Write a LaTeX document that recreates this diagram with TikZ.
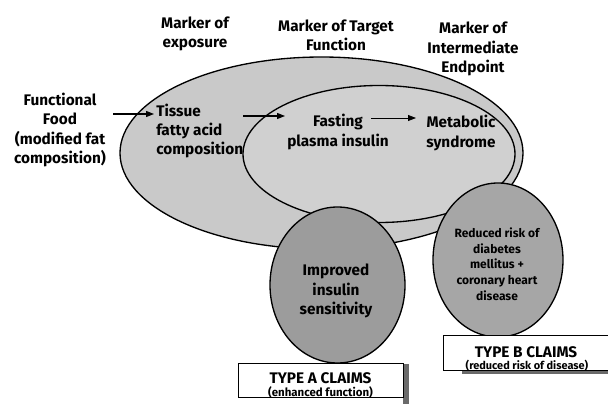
\documentclass[tikz,border=0pt]{standalone}
\usepackage{fontspec}
\setmainfont{Fira Sans}
\usetikzlibrary{shapes.geometric,arrows.meta}
\definecolor{bigfill}{HTML}{C9C9C9}
\definecolor{innerfill}{HTML}{D0D0D0}
\definecolor{circA}{HTML}{9C9C9C}
\definecolor{circB}{HTML}{A6A6A6}
\definecolor{shadowc}{HTML}{6A6A6A}
\begin{document}
\begin{tikzpicture}[x=0.75pt,y=-0.75pt,
  lbl/.style={font=\bfseries\fontsize{11.5}{14.5}\selectfont, align=center, inner sep=0pt},
  small/.style={font=\bfseries\fontsize{9}{11.8}\selectfont, align=center, inner sep=0pt},
  blob/.style={ellipse, draw=black, line width=1pt, inner sep=0pt},
  claimbox/.style={draw=black, line width=0.6pt, fill=white, inner sep=0pt},
  arr/.style={line width=0.9pt, -{Triangle[length=6pt,width=4.5pt]}}]
\useasboundingbox (0,0) rectangle (608,410);
\fill[white] (0,0) rectangle (608,410);
% regions
\node[blob, fill=bigfill, minimum width=302.25pt, minimum height=144pt] (big) at (321.5,153) {};
\node[blob, fill=innerfill, minimum width=204pt, minimum height=102.75pt] (inner) at (379,154) {};
\node[blob, fill=circA, minimum width=101.25pt, minimum height=117pt] (ca) at (337.5,285) {};
\node[blob, fill=circB, minimum width=97.5pt, minimum height=115.5pt] (cb) at (498,260) {};
% claim boxes with shadows
\fill[shadowc] (403,364) rectangle (409,404);
\node[claimbox, minimum width=123.75pt, minimum height=25.5pt] (boxA) at (320.5,380) {};
\fill[shadowc] (462,369) rectangle (608,374);
\node[claimbox, minimum width=123.75pt, minimum height=26.25pt] (boxB) at (525.5,352.5) {};
% header labels
\node[lbl] (mexp) at (195,34) {Marker of\\exposure};
\node[lbl] (mtar) at (336,35) {Marker of Target\\Function};
\node[lbl] (mint) at (473,49) {Marker of\\Intermediate\\Endpoint};
% texts
\node[lbl] (ff) at (60,130) {Functional\\Food\\(modified fat\\composition)};
\node[lbl, align=left, anchor=west] (tfa) at (156,131) {Tissue\\fatty acid\\composition};
\node[lbl] (fpi) at (338,132) {Fasting\\plasma insulin};
\node[lbl] (ms) at (461,133) {Metabolic\\syndrome};
\node[lbl] (iis) at (336,291) {Improved\\insulin\\sensitivity};
\node[small] (rr) at (497,264) {Reduced risk of\\diabetes\\mellitus +\\coronary heart\\disease};
\node[lbl] (ta) at (320.5,378) {TYPE A CLAIMS};
\node[font=\bfseries\fontsize{8.6}{9}\selectfont, inner sep=0pt] (tas) at (320.5,392) {(enhanced function)};
\node[lbl] (tb) at (526,352) {TYPE B CLAIMS};
\node[font=\bfseries\fontsize{8.2}{9}\selectfont, inner sep=0pt] (tbs) at (527,366) {(reduced risk of disease)};
% arrows
\coordinate (a1s) at (113,114);
\coordinate (a1e) at (154,114);
\coordinate (a2s) at (243,116);
\coordinate (a2e) at (285,116);
\coordinate (a3s) at (371,118);
\coordinate (a3e) at (416,118);
\draw[arr] (a1s) -- (a1e);
\draw[arr] (a2s) -- (a2e);
\draw[arr, line width=0.6pt] (a3s) -- (a3e);
\end{tikzpicture}
\end{document}
